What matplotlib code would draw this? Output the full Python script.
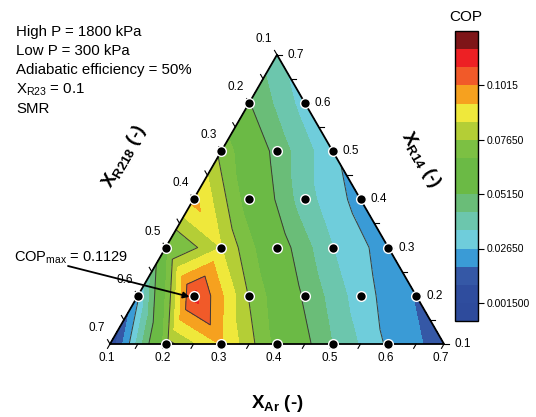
"""
    plot.py

    Ternary COP contour map (X_R23 fixed at 0.1), SMR cycle.
"""

import numpy as np
import matplotlib.pyplot as plt
import matplotlib.tri as mtri

plt.rcParams['font.family'] = ['Liberation Sans', 'DejaVu Sans']
plt.rcParams['mathtext.fontset'] = 'custom'
plt.rcParams['mathtext.rm'] = 'Liberation Sans'
plt.rcParams['mathtext.it'] = 'Liberation Sans:italic'
plt.rcParams['mathtext.bf'] = 'Liberation Sans:bold'

# composition grid (X_Ar + X_R14 + X_R218 = 0.9)
x_ar = [0.1, 0.2, 0.3, 0.4, 0.5, 0.6, 0.7]
x_r14 = [0.1, 0.2, 0.3, 0.4, 0.5, 0.6, 0.7]

# COP for each X_R14 row, by increasing X_Ar
cop_r14_01 = [0.002, 0.073, 0.094, 0.065, 0.043, 0.025, 0.014]
cop_r14_02 = [0.025, 0.1129, 0.076, 0.050, 0.030, 0.0175]
cop_r14_03 = [0.065, 0.085, 0.057, 0.035, 0.022]
cop_r14_04 = [0.096, 0.063, 0.038, 0.023]
cop_r14_05 = [0.074, 0.048, 0.028]
cop_r14_06 = [0.052, 0.031]
cop_r14_07 = [0.037]
cop_rows = [cop_r14_01, cop_r14_02, cop_r14_03, cop_r14_04,
            cop_r14_05, cop_r14_06, cop_r14_07]

cop_max = 0.1129
cop_ticks = [0.0015, 0.0265, 0.0515, 0.0765, 0.1015]
cop_tick_labels = ['0.001500', '0.02650', '0.05150', '0.07650', '0.1015']

band_colors = ['#2E4B9C', '#2F4D9E', '#3558A6', '#3A9BD6', '#6FCDDB',
               '#6CC6AD', '#6ABD78', '#6BBA45', '#6BBA45', '#7CC043',
               '#B4CE36', '#EFE83B', '#F6A11F', '#F15A29', '#ED2024',
               '#7E1518']

W, H = 536, 417
SIDE = 334          # px per triangle side
X0, Y0 = 110, 344   # px of bottom-left corner
TXT = 10.8


def to_xy(ar, r14):
    a = (np.asarray(ar) - 0.1) / 0.6
    c = (np.asarray(r14) - 0.1) / 0.6
    return a + c / 2, c * np.sqrt(3) / 2


def px(x, y):
    return (x - X0) / SIDE, (Y0 - y) / SIDE


# flatten the grid
ar_pts, r14_pts, z = [], [], []
for j, row in enumerate(cop_rows):
    for i, val in enumerate(row):
        ar_pts.append(x_ar[i])
        r14_pts.append(x_r14[j])
        z.append(val)
ar_pts, r14_pts, z = map(np.array, (ar_pts, r14_pts, z))
xs, ys = to_xy(ar_pts, r14_pts)

fig = plt.figure(figsize=(W / 100, H / 100), dpi=100)
ax = fig.add_axes([0, 0, 1, 1])
ax.set_xlim(-X0 / SIDE, (W - X0) / SIDE)
ax.set_ylim(-(H - Y0) / SIDE, Y0 / SIDE)
ax.axis('off')

step = 0.025 / 3
levels = cop_ticks[0] + step * np.arange(-1, 16)
tri = mtri.Triangulation(xs, ys)
tcf = ax.tricontourf(tri, z, levels=levels, colors=band_colors)
ax.tricontour(tri, z, levels=cop_ticks[1:], colors='#3a3a3a',
              linewidths=0.7)

# triangle outline
cx, cy = to_xy([0.1, 0.7, 0.1, 0.1], [0.1, 0.1, 0.7, 0.1])
ax.plot(cx, cy, color='black', lw=1.3, zorder=5)

# grid dots (no dots on the corners)
corner = ((ar_pts == 0.7) | (r14_pts == 0.7) |
          ((ar_pts == 0.1) & (r14_pts == 0.1)))
ax.plot(xs[~corner], ys[~corner], 'o', color='black', ms=7,
        mec='white', mew=1.0, zorder=6)

# ticks + labels on the three edges
tl = 5 / SIDE
s3 = np.sqrt(3) / 2
for v in np.arange(0.1, 0.7001, 0.05):
    major = abs(round(v * 10) - v * 10) < 1e-6
    # X_Ar on the base
    bx, by = to_xy(v, 0.1)
    ax.plot([bx, bx - 0.5 * tl], [by, by - s3 * tl], color='black',
            lw=0.8, zorder=4)
    # X_R14 on the right edge
    rx, ry = to_xy(0.8 - v, v)
    ax.plot([rx, rx + tl], [ry, ry], color='black', lw=0.8, zorder=4)
    # X_R218 on the left edge
    lx, ly = to_xy(0.1, 0.8 - v)
    ax.plot([lx, lx - 0.5 * tl], [ly, ly + s3 * tl], color='black',
            lw=0.8, zorder=4)
    if major:
        lab = f'{v:.1f}'
        ax.text(bx - 3 / SIDE, by - 14 / SIDE, lab, ha='center',
                va='center', fontsize=8.5)
        ax.text(rx + 10 / SIDE, ry, lab, ha='left', va='center',
                fontsize=8.5)
        ax.text(lx - 13 / SIDE, ly + 16 / SIDE, lab, ha='center',
                va='center', fontsize=8.5)

# axis titles
ax.text(*px(124, 157), r'$\mathbf{X_{R218}}$ (-)', rotation=60,
        ha='center', va='center', fontsize=13.5, fontweight='bold')
ax.text(*px(421, 160), r'$\mathbf{X_{R14}}$ (-)', rotation=-60,
        ha='center', va='center', fontsize=13.5, fontweight='bold')
ax.text(*px(277, 404), r'$\mathbf{X_{Ar}}$ (-)', ha='center',
        va='center', fontsize=13.5, fontweight='bold')

# conditions
info = ['High P = 1800 kPa', 'Low P = 300 kPa',
        'Adiabatic efficiency = 50%', r'X$_{\mathrm{R23}}$ = 0.1', 'SMR']
for k, line in enumerate(info):
    ax.text(*px(16, 32 + 19.2 * k), line, ha='left', va='center',
            fontsize=TXT)

# optimum annotation
ax.text(*px(14, 258), r'COP$_{\mathrm{max}}$ = ' + f'{cop_max}',
        ha='left', va='center', fontsize=10.5)
ox, oy = to_xy(0.2, 0.2)
ax.annotate('', xy=(ox - 4 / SIDE, oy - 1 / SIDE), xytext=px(68, 266),
            arrowprops=dict(arrowstyle='-|>', color='black', lw=1.3,
                            mutation_scale=9, shrinkA=0, shrinkB=0),
            zorder=7)

# colour bar
cax = fig.add_axes([455 / W, (H - 321) / H, 23 / W, 290 / H])
cb = fig.colorbar(tcf, cax=cax, ticks=cop_ticks)
cb.set_ticklabels(cop_tick_labels)
cb.outline.set_linewidth(1.0)
cax.tick_params(labelsize=7.5, length=4, width=0.8, pad=2)
fig.text(466 / W, 1 - 17 / H, 'COP', ha='center', va='center',
         fontsize=11)

fig.savefig('out.png', dpi=100)
